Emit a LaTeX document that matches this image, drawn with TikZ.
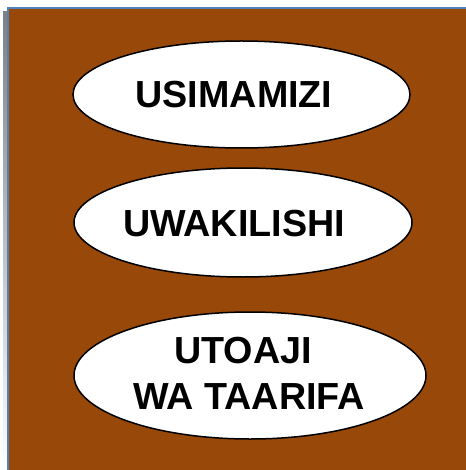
\documentclass[tikz,border=0pt]{standalone}
\usepackage{fontspec}
\setmainfont{Liberation Sans}
\usetikzlibrary{shapes.geometric}
\definecolor{bgbrown}{RGB}{152,72,8}
\definecolor{edgeblue}{RGB}{79,129,189}
\definecolor{shade}{RGB}{236,236,236}
\tikzset{
  oval/.style={ellipse, draw=black, line width=1.5pt, fill=white, inner sep=0pt},
  label text/.style={font=\fontsize{37.7}{46}\selectfont\bfseries, text=black, inner sep=0pt, anchor=base}
}
\begin{document}
\begin{tikzpicture}[x=1pt,y=-1pt]
\useasboundingbox (0,0) rectangle (465,470);
\fill[white] (0,0) rectangle (465,470);
\fill[shade] (3,12) rectangle (8,470);
\fill[bgbrown] (8,8) rectangle (466,471);
\draw[edgeblue, line width=2pt] (8,471) -- (8,8) -- (466,8);
\node[oval, minimum width=337pt, minimum height=107pt] (e1) at (241.5,94.5) {};
\node[oval, minimum width=338pt, minimum height=109pt] (e2) at (243,222.5) {};
\node[oval, minimum width=352pt, minimum height=127pt] (e3) at (250,375.5) {};
\node[label text] (t1) at (234,108) {USIMAMIZI};
\node[label text] (t2) at (234,236) {UWAKILISHI};
\node[label text] (t3) at (243,363) {UTOAJI};
\node[label text] (t4) at (249,409) {WA TAARIFA};
\end{tikzpicture}
\end{document}
